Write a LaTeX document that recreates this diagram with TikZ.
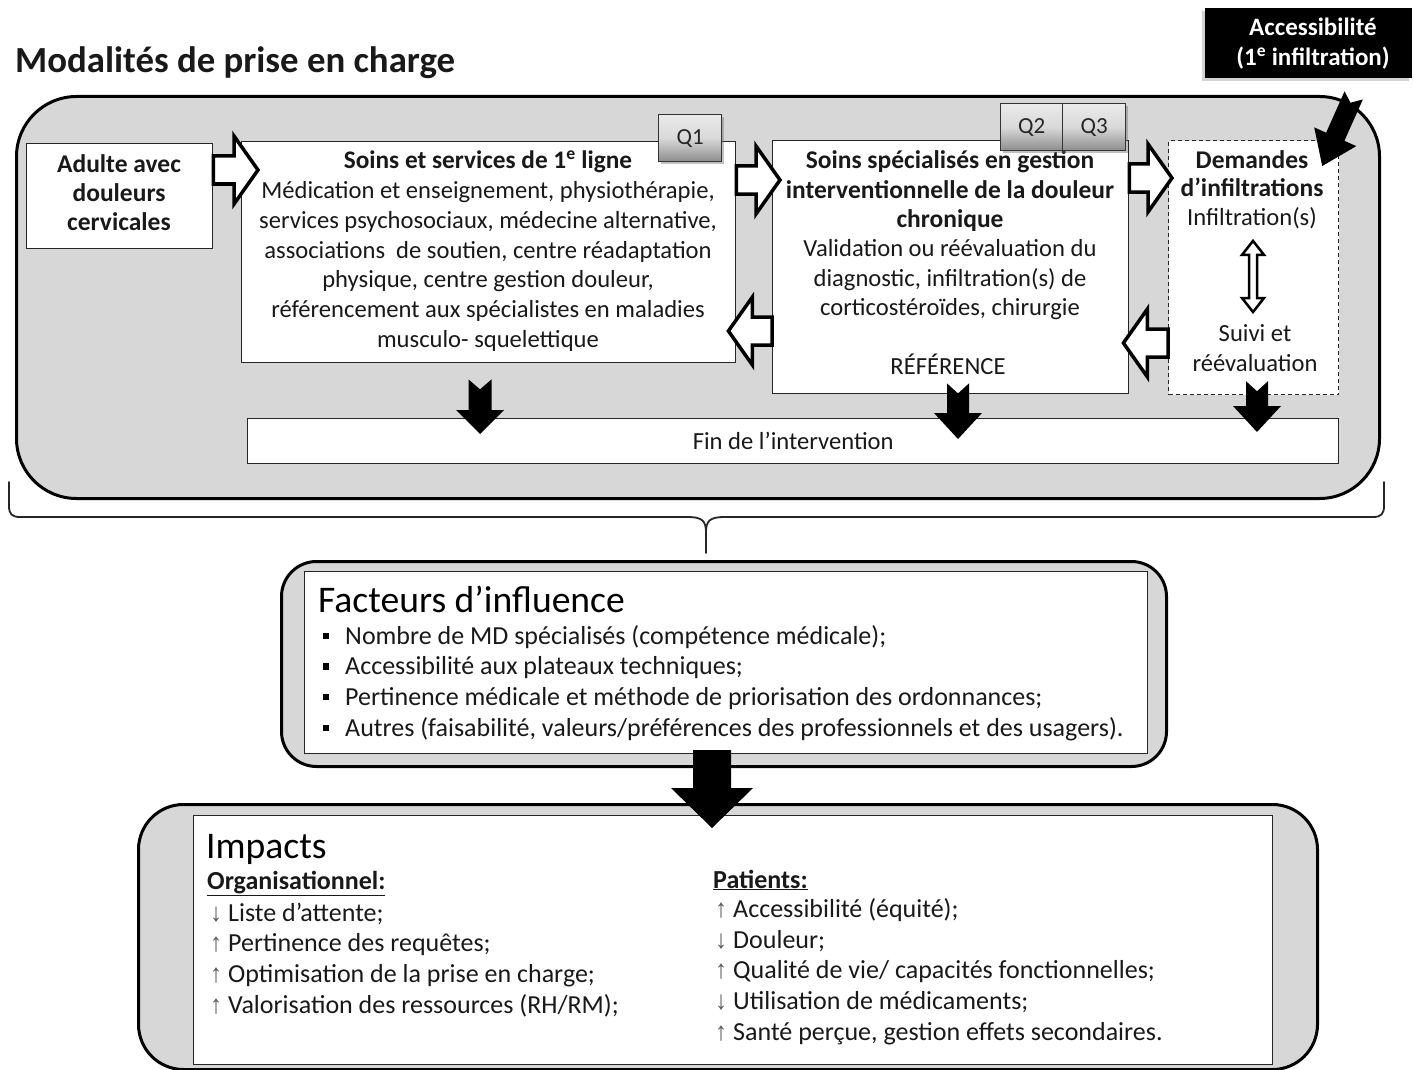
\documentclass[tikz,border=0pt]{standalone}
\usepackage{fontspec}
\usepackage{graphicx}
\setmainfont{Carlito}
\newfontfamily\arrowfont{Liberation Sans}
\usetikzlibrary{calc,shadows}
\definecolor{bgray}{RGB}{215,215,215}
\newcommand\uparr{{\arrowfont\color{black!65}\fontsize{20}{20}\selectfont\scalebox{1.2}[1.3]{↑}}\hspace{6pt}}
\newcommand\downarr{{\arrowfont\color{black!65}\fontsize{20}{20}\selectfont\scalebox{1.2}[1.3]{↓}}\hspace{6pt}}
\tikzset{
  blockarrow/.style n args={4}{to path={
    let \p1=(\tikztostart), \p2=(\tikztotarget),
        \n1={veclen(\x2-\x1,\y2-\y1)},
        \n2={(\x2-\x1)/\n1}, \n3={(\y2-\y1)/\n1}, \n4={\n1-(#3)}
    in ({\x1+(#4)*\n2},{\y1+(#4)*\n3})
    -- ({\x1-(#1)*\n3},{\y1+(#1)*\n2})
    -- ({\x1+\n4*\n2-(#1)*\n3},{\y1+\n4*\n3+(#1)*\n2})
    -- ({\x1+\n4*\n2-(#2)*\n3},{\y1+\n4*\n3+(#2)*\n2})
    -- (\x2,\y2)
    -- ({\x1+\n4*\n2+(#2)*\n3},{\y1+\n4*\n3-(#2)*\n2})
    -- ({\x1+\n4*\n2+(#1)*\n3},{\y1+\n4*\n3-(#1)*\n2})
    -- ({\x1+(#1)*\n3},{\y1-(#1)*\n2})
    -- cycle}},
  dblarrow/.style n args={3}{to path={
    let \p1=(\tikztostart), \p2=(\tikztotarget),
        \n1={veclen(\x2-\x1,\y2-\y1)},
        \n2={(\x2-\x1)/\n1}, \n3={(\y2-\y1)/\n1}, \n4={\n1-(#3)}
    in (\x1,\y1)
    -- ({\x1+(#3)*\n2-(#2)*\n3},{\y1+(#3)*\n3+(#2)*\n2})
    -- ({\x1+(#3)*\n2-(#1)*\n3},{\y1+(#3)*\n3+(#1)*\n2})
    -- ({\x1+\n4*\n2-(#1)*\n3},{\y1+\n4*\n3+(#1)*\n2})
    -- ({\x1+\n4*\n2-(#2)*\n3},{\y1+\n4*\n3+(#2)*\n2})
    -- (\x2,\y2)
    -- ({\x1+\n4*\n2+(#2)*\n3},{\y1+\n4*\n3-(#2)*\n2})
    -- ({\x1+\n4*\n2+(#1)*\n3},{\y1+\n4*\n3-(#1)*\n2})
    -- ({\x1+(#3)*\n2+(#1)*\n3},{\y1+(#3)*\n3-(#1)*\n2})
    -- ({\x1+(#3)*\n2+(#2)*\n3},{\y1+(#3)*\n3-(#2)*\n2})
    -- cycle}},
  hollow/.style={draw=black, line width=3.5pt, fill=white, blockarrow={14}{34}{24}{0}},
  blk/.style n args={4}{fill=black, draw=none, blockarrow={#1}{#2}{#3}{#4}},
  txt/.style={inner sep=0pt, text=black!90, align=center, font=\fontsize{24.6}{29.6}\selectfont},
  ltxt/.style={inner sep=0pt, text=black!90, anchor=base west, font=\fontsize{26}{30}\selectfont},
  bx/.style={draw=black!85, line width=1.4pt, fill=white, inner sep=0pt, anchor=north west},
  dbx/.style={bx, dash pattern=on 4pt off 3pt, line width=1.2pt},
  outerbox/.style={draw=black, line width=3pt, fill=bgray, inner sep=0pt, anchor=north west},
  qbtn/.style={draw=black!80, line width=1.3pt, top color=black!8, bottom color=black!45, middle color=black!15,
    minimum height=47pt, anchor=north west, inner sep=0pt, text=black!85,
    font=\fontsize{23}{23}\selectfont,
    drop shadow={fill=black!60, opacity=0.4, shadow xshift=2pt, shadow yshift=-2pt}},
  bul/.style={fill=black, inner sep=0pt, minimum size=6.5pt}
}
\begin{document}
\begin{tikzpicture}[x=1pt,y=-1pt]
\useasboundingbox (0,0) rectangle (1414,1070);

% ---------- title
\node[inner sep=0pt, anchor=base west, font=\bfseries\fontsize{36.8}{40}\selectfont, text=black!90] (title) at (15,73) {Modalités de prise en charge};

% ---------- big grey frame
\node[outerbox, minimum width=1363pt, minimum height=402pt, rounded corners=60pt] (mod) at (15,95) {};

% ---------- boxes
\node[bx, minimum width=186pt, minimum height=105pt] (adult) at (26,143) {};
\node[txt, anchor=north, font=\bfseries\fontsize{25.5}{29}\selectfont] (adultT) at (119,152)
  {\strut Adulte avec\\\strut douleurs\\\strut cervicales};

\node[bx, minimum width=494pt, minimum height=221pt] (b1) at (241,141) {};
\node[txt, anchor=north, font=\fontsize{24.6}{29.7}\selectfont] (b1T) at (488,148)
  {\strut{\fontsize{25.3}{29.7}\selectfont\textbf{Soins et services de 1\textsuperscript{e} ligne}}\\
   \strut Médication et enseignement, physiothérapie,\\
   \strut services psychosociaux, médecine alternative,\\
   \strut associations\ \ de soutien, centre réadaptation\\
   \strut physique, centre gestion douleur,\\
   \strut référencement aux spécialistes en maladies\\
   \strut musculo- squelettique};

\node[bx, minimum width=356pt, minimum height=253pt] (b2) at (772,140) {};
\node[txt, anchor=north, font=\fontsize{24.6}{29.4}\selectfont] (b2T) at (950,148)
  {\strut{\fontsize{25.5}{29.4}\selectfont\textbf{Soins spécialisés en gestion}}\\
   \strut{\fontsize{25.5}{29.4}\selectfont\textbf{interventionnelle de la douleur}}\\
   \strut{\fontsize{25.5}{29.4}\selectfont\textbf{chronique}}\\
   \strut Validation ou réévaluation du\\
   \strut diagnostic, infiltration(s) de\\
   \strut corticostéroïdes, chirurgie};
\node[txt, anchor=north] (ref) at (948,354) {\strut RÉFÉRENCE};

\node[dbx, minimum width=170pt, minimum height=254pt] (b3) at (1168,140) {};
\node[txt, anchor=north, font=\fontsize{24.6}{28.5}\selectfont] (d3a) at (1252,148)
  {\strut{\fontsize{25.5}{28.5}\selectfont\textbf{Demandes}}\\\strut{\fontsize{25.5}{28.5}\selectfont\textbf{d’infiltrations}}\\\strut Infiltration(s)};
\node[txt, anchor=north, font=\fontsize{24.6}{30}\selectfont] (d3b) at (1255,320)
  {\strut Suivi et\\\strut réévaluation};

\node[bx, minimum width=1091pt, minimum height=45pt] (fin) at (247,418) {};
\node[txt, anchor=center] (finT) at (fin.center) {Fin de l’intervention};

% ---------- Q buttons
\node[qbtn, minimum width=63pt] (q1) at (658,114) {Q1};
\node[qbtn, minimum width=62pt] (q2) at (1000,103) {Q2};
\node[qbtn, minimum width=63pt] (q3) at (1062,103) {Q3};

% ---------- accessibility
\node[fill=black, minimum width=207pt, minimum height=70pt, anchor=north west, inner sep=0pt,
  drop shadow={fill=black!50, opacity=0.35, shadow xshift=-3pt, shadow yshift=-3pt}] (acc) at (1205,8) {};
\node[txt, anchor=north, text=white, font=\bfseries\fontsize{25}{30}\selectfont] (accT) at (1313,14)
  {\strut Accessibilité\\\strut (1\textsuperscript{e} infiltration)};

% ---------- hollow arrows
\coordinate (yA) at (0,170);
\coordinate (yB) at (0,180);
\coordinate (yC) at (0,331);
\coordinate (yD) at (0,178);
\coordinate (yE) at (0,343);
\draw[hollow] (adult.east |- yA) to ($(b1.west |- yA)+(17,0)$);
\draw[hollow] (b1.east |- yB) to ($(b2.west |- yB)+(8,0)$);
\draw[hollow] (b2.west |- yC) to ($(b1.east |- yC)+(-8,0)$);
\draw[hollow] (b2.east |- yD) to ($(b3.west |- yD)+(4,0)$);
\draw[hollow] (b3.west |- yE) to ($(b2.east |- yE)+(-6,0)$);
\draw[draw=black, line width=2.5pt, fill=white, dblarrow={4}{11}{14}] ($(d3a.south)+(1,7)$) to ($(d3b.north)+(-2,-8)$);

% ---------- black arrows
\coordinate (cA) at (480,0);
\coordinate (cB) at (958,0);
\coordinate (cC) at (1257,0);
\draw[blk={11.5}{24}{24}{10}] ($(b1.south -| cA)+(0,16)$) to ($(fin.north -| cA)+(0,16)$);
\draw[blk={11}{24}{26}{10}] ($(b2.south -| cB)+(0,-11)$) to ($(fin.north -| cB)+(0,21)$);
\draw[blk={11}{24}{26}{10}] ($(b3.south -| cC)+(0,-14)$) to ($(fin.north -| cC)+(0,14)$);
\draw[blk={10}{23}{32}{8}] ($(acc.south)+(45,17)$) to ($(b3.north east)+(-17,26)$);

% ---------- brace
\draw[line width=1.8pt, black!85, line cap=round]
  (9,482) -- (9,506) .. controls (9,514) and (12,517) .. (20,517) -- (688,517)
  .. controls (702,517) and (706,521) .. (706,532) -- (706,553);
\draw[line width=1.8pt, black!85, line cap=round]
  (706,532) .. controls (706,521) and (710,517) .. (724,517) -- (1373,517)
  .. controls (1381,517) and (1384,514) .. (1384,506) -- (1384,482);

% ---------- Facteurs d'influence
\node[outerbox, minimum width=885pt, minimum height=205pt, rounded corners=35pt] (facO) at (280,560) {};
\node[bx, minimum width=843pt, minimum height=182pt] (fac) at (304,571) {};
\node[inner sep=0pt, anchor=base west, text=black, font=\fontsize{37.6}{40}\selectfont] (facT) at (318,612) {Facteurs d’influence};
\node[ltxt] (f1) at (345,644) {Nombre de MD spécialisés (compétence médicale);};
\node[ltxt] (f2) at (345,674.5) {Accessibilité aux plateaux techniques;};
\node[ltxt] (f3) at (345,705) {Pertinence médicale et méthode de priorisation des ordonnances;};
\node[ltxt] (f4) at (345,736) {Autres (faisabilité, valeurs/préférences des professionnels et des usagers).};
\node[bul] (p1) at ($(f1.base west)+(-19,-8)$) {};
\node[bul] (p2) at ($(f2.base west)+(-19,-8)$) {};
\node[bul] (p3) at ($(f3.base west)+(-19,-8)$) {};
\node[bul] (p4) at ($(f4.base west)+(-19,-8)$) {};

% ---------- Impacts
\node[outerbox, minimum width=1179pt, minimum height=265pt, rounded corners=45pt] (impO) at (137,803) {};
\node[bx, minimum width=1079pt, minimum height=249pt] (imp) at (193,815) {};
\coordinate (cD) at (712,0);
\draw[blk={19}{41}{40}{0}] ($(facO.south -| cD)+(0,-18)$) to ($(impO.north -| cD)+(0,25)$);

\node[inner sep=0pt, anchor=base west, text=black, font=\fontsize{37.6}{40}\selectfont] (impT) at (206,858) {Impacts};
\node[ltxt] (org) at (207,889) {\textbf{\underline{Organisationnel:}}};
\node[ltxt] (o1) at (210,921) {\downarr Liste d’attente;};
\node[ltxt] (o2) at (210,951) {\uparr Pertinence des requêtes;};
\node[ltxt] (o3) at (210,982) {\uparr Optimisation de la prise en charge;};
\node[ltxt] (o4) at (210,1013) {\uparr Valorisation des ressources (RH/RM);};

\node[ltxt] (pat) at (713,888) {\textbf{\underline{Patients:}}};
\node[ltxt] (pt1) at (715,917) {\uparr Accessibilité (équité);};
\node[ltxt] (pt2) at (715,948) {\downarr Douleur;};
\node[ltxt] (pt3) at (715,978) {\uparr Qualité de vie/ capacités fonctionnelles;};
\node[ltxt] (pt4) at (715,1009) {\downarr Utilisation de médicaments;};
\node[ltxt] (pt5) at (715,1040) {\uparr Santé perçue, gestion effets secondaires.};
\end{tikzpicture}
\end{document}
